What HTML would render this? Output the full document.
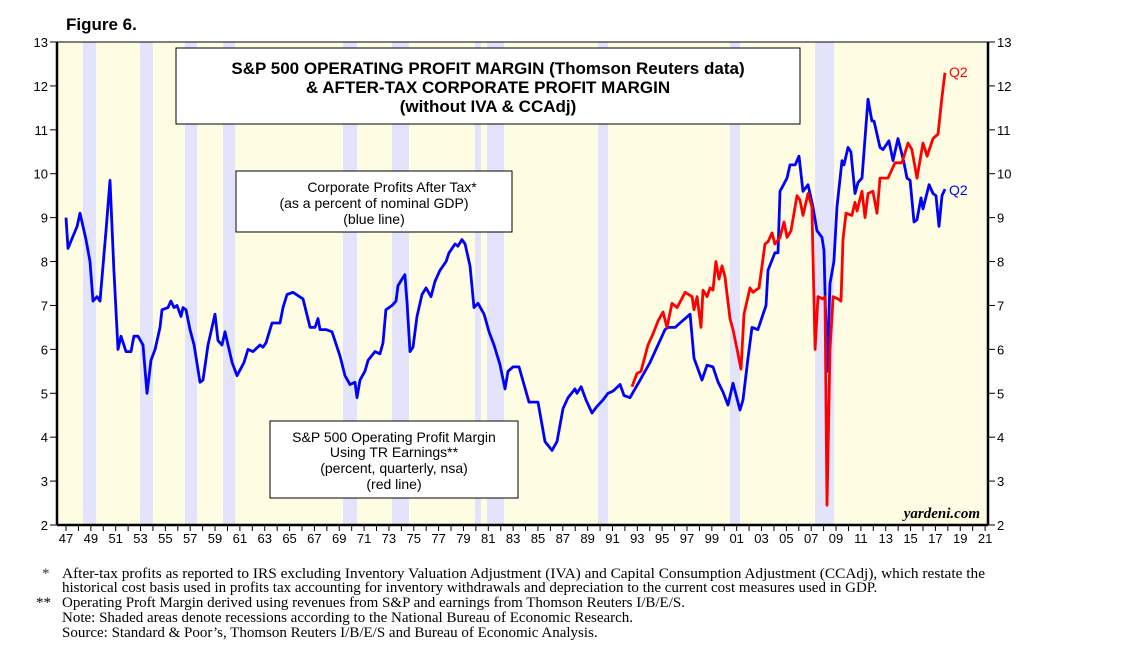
<!DOCTYPE html>
<html><head><meta charset="utf-8"><style>
body{margin:0;background:#fff;width:1138px;height:659px;overflow:hidden;font-family:"Liberation Sans",sans-serif}
svg{position:absolute;left:0;top:0}
</style></head><body>
<svg id="c" width="1138" height="659">
<text x="66" y="30" font-size="17" font-weight="bold">Figure 6.</text>
<rect x="57" y="42" width="931" height="483" fill="#fefde4"/>
<g id="rec"></g><g id="axes"></g><g id="lines"></g>
<g>
<rect x="176" y="48" width="624" height="76" fill="#fff" stroke="#000"/>
<text x="488" y="74" font-size="17" font-weight="bold" text-anchor="middle">S&amp;P 500 OPERATING PROFIT MARGIN (Thomson Reuters data)</text>
<text x="488" y="93" font-size="17" font-weight="bold" text-anchor="middle">&amp; AFTER-TAX CORPORATE PROFIT MARGIN</text>
<text x="488" y="112" font-size="17" font-weight="bold" text-anchor="middle">(without IVA &amp; CCAdj)</text>
</g>
<g>
<rect x="236" y="171" width="276" height="61" fill="#fff" stroke="#000"/>
<text x="392" y="192" font-size="14" text-anchor="middle">Corporate Profits After Tax*</text>
<text x="374" y="208" font-size="14" text-anchor="middle">(as a percent of nominal GDP)</text>
<text x="374" y="224" font-size="14" text-anchor="middle">(blue line)</text>
</g>
<g>
<rect x="270" y="421" width="248" height="77" fill="#fff" stroke="#000"/>
<text x="394" y="442" font-size="14" text-anchor="middle">S&amp;P 500 Operating Profit Margin</text>
<text x="394" y="457" font-size="14" text-anchor="middle">Using TR Earnings**</text>
<text x="394" y="473" font-size="14" text-anchor="middle">(percent, quarterly, nsa)</text>
<text x="394" y="489" font-size="14" text-anchor="middle">(red line)</text>
</g>
<text x="949" y="77" font-size="14" fill="#ff0000">Q2</text>
<text x="949" y="195" font-size="14" fill="#0000ff">Q2</text>
<text x="980" y="518" font-size="15" font-style="italic" font-weight="bold" font-family="Liberation Serif,serif" text-anchor="end">yardeni.com</text>
<g font-family="Liberation Serif,serif" font-size="15">
<text x="42" y="578" fill="#333">*</text>
<text x="62" y="578" textLength="923" lengthAdjust="spacingAndGlyphs">After-tax profits as reported to IRS excluding Inventory Valuation Adjustment (IVA) and Capital Consumption Adjustment (CCAdj), which restate the</text>
<text x="62" y="592">historical cost basis used in profits tax accounting for inventory withdrawals and depreciation to the current cost measures used in GDP.</text>
<text x="36" y="607">**</text>
<text x="62" y="607">Operating Proft Margin derived using revenues from S&amp;P and earnings from Thomson Reuters I/B/E/S.</text>
<text x="62" y="622">Note: Shaded areas denote recessions according to the National Bureau of Economic Research.</text>
<text x="62" y="637">Source: Standard &amp; Poor’s, Thomson Reuters I/B/E/S and Bureau of Economic Analysis.</text>
</g>
</svg>
<script>
const yTicks=[2,3,4,5,6,7,8,9,10,11,12,13];
const xLabels=["47","49","51","53","55","57","59","61","63","65","67","69","71","73","75","77","79","81","83","85","87","89","91","93","95","97","99","01","03","05","07","09","11","13","15","17","19","21"];
const recStart=[1948.37,1952.96,1956.58,1959.64,1969.3,1973.25,1979.93,1980.9,1989.84,2000.46,2007.31];
const recEnd=[1949.42,1954.0,1957.55,1960.61,1970.43,1974.62,1980.41,1982.27,1990.64,2001.27,2008.84];
const blueYears=[1947.0,1947.16,1947.89,1948.13,1948.61,1948.93,1949.17,1949.5,1949.74,1950.22,1950.54,1950.86,1951.19,1951.43,1951.83,1952.23,1952.47,1952.8,1953.2,1953.52,1953.84,1954.17,1954.57,1954.73,1955.21,1955.45,1955.7,1955.94,1956.26,1956.42,1956.66,1956.98,1957.31,1957.79,1958.03,1958.43,1959.0,1959.24,1959.56,1959.8,1960.37,1960.77,1961.33,1961.65,1962.06,1962.62,1962.86,1963.1,1963.59,1964.23,1964.47,1964.79,1965.28,1966.08,1966.65,1967.05,1967.29,1967.45,1967.93,1968.42,1969.06,1969.46,1969.87,1970.27,1970.43,1970.67,1971.07,1971.32,1971.88,1972.28,1972.52,1972.76,1973.25,1973.57,1973.73,1974.05,1974.29,1974.46,1974.7,1974.94,1975.26,1975.66,1975.99,1976.39,1976.71,1977.11,1977.6,1977.84,1978.32,1978.56,1978.88,1979.13,1979.53,1979.85,1980.17,1980.66,1981.06,1981.46,1981.94,1982.35,1982.59,1982.99,1983.47,1983.88,1984.28,1985.0,1985.57,1986.13,1986.53,1987.02,1987.42,1987.98,1988.14,1988.47,1988.87,1989.35,1989.75,1990.24,1990.64,1991.04,1991.61,1991.93,1992.41,1993.22,1994.02,1994.83,1995.23,1995.47,1996.04,1996.44,1996.85,1997.25,1997.56,1998.21,1998.61,1999.09,1999.5,1999.9,2000.3,2000.7,2001.27,2001.51,2001.91,2002.23,2002.71,2003.36,2003.52,2004.08,2004.33,2004.49,2005.05,2005.29,2005.7,2006.02,2006.34,2006.74,2007.14,2007.47,2007.87,2008.03,2008.27,2008.51,2008.83,2009.08,2009.48,2009.64,2009.96,2010.2,2010.53,2010.77,2011.09,2011.57,2011.89,2012.06,2012.54,2012.78,2013.26,2013.59,2013.99,2014.47,2014.71,2014.96,2015.28,2015.52,2015.84,2016.0,2016.49,2016.81,2017.05,2017.29,2017.53,2017.77];
const blueValues=[9.0,8.3,8.8,9.1,8.5,8.0,7.1,7.2,7.1,8.7,9.85,7.8,6.0,6.3,5.95,5.95,6.3,6.3,6.1,5.0,5.75,6.0,6.5,6.9,6.95,7.1,6.95,7.0,6.75,6.95,6.9,6.45,6.1,5.25,5.3,6.1,6.8,6.2,6.1,6.4,5.7,5.4,5.7,6.0,5.95,6.1,6.05,6.15,6.6,6.6,6.95,7.25,7.3,7.15,6.5,6.5,6.7,6.45,6.45,6.4,5.85,5.4,5.2,5.25,4.9,5.3,5.5,5.75,5.95,5.9,6.15,6.9,7.0,7.1,7.45,7.6,7.7,7.05,5.95,6.05,6.75,7.25,7.4,7.2,7.55,7.8,8.0,8.2,8.4,8.35,8.5,8.4,7.9,6.95,7.05,6.8,6.4,6.1,5.65,5.1,5.5,5.6,5.6,5.2,4.8,4.8,3.9,3.7,3.9,4.65,4.9,5.1,5.0,5.15,4.85,4.55,4.7,4.85,5.0,5.05,5.2,4.95,4.9,5.3,5.7,6.2,6.45,6.5,6.5,6.6,6.7,6.8,5.8,5.3,5.64,5.6,5.26,5.03,4.73,5.23,4.62,4.85,5.8,6.5,6.45,7.0,7.8,8.2,8.2,9.6,9.9,10.2,10.2,10.4,9.6,9.75,9.25,8.7,8.55,8.25,5.5,7.5,8.0,9.25,10.3,10.2,10.6,10.5,9.55,9.8,9.9,11.7,11.2,11.2,10.6,10.55,10.75,10.3,10.8,10.25,9.9,9.85,8.9,8.95,9.45,9.2,9.75,9.55,9.5,8.8,9.5,9.65];
const redYears=[1992.57,1992.97,1993.3,1993.86,1994.26,1994.67,1995.07,1995.39,1995.79,1996.2,1996.85,1997.41,1997.56,1997.81,1998.13,1998.29,1998.61,1998.85,1999.09,1999.33,1999.58,1999.82,2000.06,2000.46,2000.7,2001.03,2001.35,2001.59,2002.07,2002.31,2002.8,2003.28,2003.52,2003.84,2004.08,2004.49,2004.81,2005.05,2005.37,2005.86,2006.1,2006.34,2006.74,2007.06,2007.31,2007.55,2007.95,2008.11,2008.27,2008.51,2008.76,2009.16,2009.4,2009.56,2009.8,2010.28,2010.53,2010.69,2011.09,2011.33,2011.57,2011.97,2012.3,2012.54,2013.18,2013.75,2014.31,2014.79,2015.11,2015.52,2016.0,2016.33,2016.81,2017.21,2017.53,2017.77];
const redValues=[5.15,5.45,5.5,6.1,6.35,6.65,6.85,6.5,7.05,6.95,7.3,7.2,6.9,7.2,6.5,7.35,7.2,7.4,7.35,8.0,7.6,7.9,7.65,6.7,6.45,6.0,5.55,6.8,7.4,7.3,7.4,8.4,8.45,8.65,8.4,8.55,8.9,8.55,8.7,9.5,9.4,9.05,9.55,9.25,6.0,7.2,7.15,7.2,2.45,6.0,7.2,7.15,7.1,8.5,9.1,9.05,9.35,9.15,9.6,9.0,9.55,9.6,9.1,9.9,9.9,10.25,10.25,10.7,10.55,9.9,10.7,10.4,10.8,10.9,11.75,12.3];

const NS="http://www.w3.org/2000/svg";
const X0=57,X1=988,Y0=525,Y1=42;
const xs=yr=>66+(yr-1947)*12.42;
const ys=v=>Y0-(v-2)*(Y0-Y1)/11;
function mk(tag,attrs,parent){const e=document.createElementNS(NS,tag);for(const k in attrs)e.setAttribute(k,attrs[k]);parent.appendChild(e);return e;}
const rec=document.getElementById('rec'),axes=document.getElementById('axes'),lines=document.getElementById('lines');
recStart.forEach((s,i)=>{const r=mk('rect',{x:xs(s),y:Y1,width:xs(recEnd[i])-xs(s),height:Y0-Y1,fill:'#e3e3fb'},rec);

});
const frame=mk('rect',{x:X0,y:Y1,width:X1-X0,height:Y0-Y1,fill:'none',stroke:'#000','stroke-width':1},axes);


mk('line',{x1:X0,y1:Y1,x2:X0,y2:Y0,stroke:'#000','stroke-width':2.5},axes);
mk('line',{x1:X1,y1:Y1,x2:X1,y2:Y0,stroke:'#000','stroke-width':2.5},axes);
mk('line',{x1:X0,y1:Y0,x2:X1,y2:Y0,stroke:'#000','stroke-width':2.5},axes);
yTicks.forEach(v=>{const y=ys(v);
mk('line',{x1:X0-7,y1:y,x2:X0,y2:y,stroke:'#000'},axes);
mk('line',{x1:X1,y1:y,x2:X1+7,y2:y,stroke:'#000'},axes);
const t1=mk('text',{x:X0-9,y:y+5,'font-size':13,'text-anchor':'end'},axes);t1.textContent=v;


const t2=mk('text',{x:X1+9,y:y+5,'font-size':13},axes);t2.textContent=v;

});
for(let yr=1946;yr<=2021;yr++){const x=xs(yr+0.5)-6.2;if(x<X0||x>X1)continue;mk('line',{x1:x,y1:Y0,x2:x,y2:Y0+6,stroke:'#000'},axes);}
xLabels.forEach((l,i)=>{const t=mk('text',{x:66+i*24.84,y:Y0+18,'font-size':13,'text-anchor':'middle'},axes);t.textContent=l;

});
function path(yrs,vals,color,name){const d=yrs.map((yr,i)=>(i?'L':'M')+xs(yr).toFixed(1)+','+ys(vals[i]).toFixed(1)).join('');
const p=mk('path',{d:d,fill:'none',stroke:color,'stroke-width':2.8,'stroke-linejoin':'round'},lines);

}
path(blueYears,blueValues,'#0000ff','corporate-profits-line');
path(redYears,redValues,'#ff0000','sp500-margin-line');
</script>
</body></html>
